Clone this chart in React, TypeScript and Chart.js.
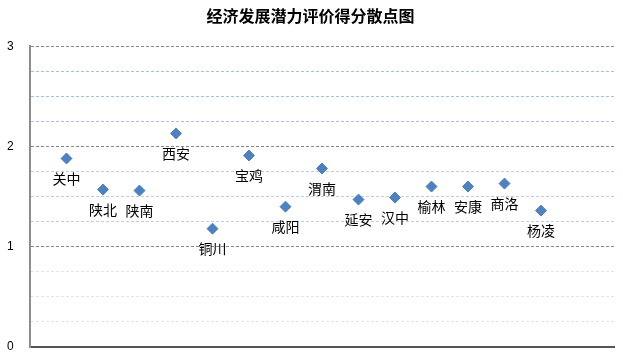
import React, { useEffect, useRef } from "react";
import { Chart, registerables } from "chart.js";

Chart.register(...registerables);

const titleText = "经济发展潜力评价得分散点图";
const regions = ["关中", "陕北", "陕南", "西安", "铜川", "宝鸡", "咸阳", "渭南", "延安", "汉中", "榆林", "安康", "商洛", "杨凌"];
const positions = [1, 2, 3, 4, 5, 6, 7, 8, 9, 10, 11, 12, 13, 14];
const scores = [1.88, 1.57, 1.56, 2.13, 1.18, 1.91, 1.40, 1.78, 1.47, 1.49, 1.60, 1.60, 1.63, 1.36];
const yTickLabels = ["0", "1", "2", "3"];

const labelPlugin = {
  id: "pointLabels",
  afterDatasetsDraw(chart: any) {
    const { ctx } = chart;
    const meta = chart.getDatasetMeta(0);
    ctx.save();
    ctx.font = '14px "Noto Sans CJK SC"';
    ctx.fillStyle = "#000";
    ctx.textAlign = "center";
    ctx.textBaseline = "middle";
    meta.data.forEach((el: any, i: number) => {
      ctx.fillText(regions[i], el.x, el.y + 20);
    });
    ctx.restore();
  },
};

export default function App() {
  const ref = useRef<HTMLCanvasElement>(null);
  useEffect(() => {
    document.body.style.margin = "0";
    const chart = new Chart(ref.current!, {
      type: "scatter",
      data: {
        datasets: [
          {
            data: positions.map((x, i) => ({ x, y: scores[i] })),
            pointStyle: "rectRot",
            pointRadius: 5.5,
            backgroundColor: "#4f81bd",
            borderColor: "#4f81bd",
            borderWidth: 1,
          },
        ],
      },
      options: {
        animation: false,
        responsive: false,
        layout: { padding: { right: 9, left: 7, bottom: 0, top: 0 } },
        plugins: {
          legend: { display: false },
          tooltip: { enabled: false },
          title: {
            display: true,
            text: titleText,
            color: "#000",
            font: { family: '"Noto Sans CJK SC"', size: 16, weight: "bold" },
            padding: { top: 6, bottom: 21 },
          },
        },
        scales: {
          x: {
            type: "linear",
            min: 0,
            max: 16,
            grid: { display: false },
            ticks: { display: false },
            border: { display: true, color: "#555", width: 2 },
            afterFit(scale: any) {
              scale.height = 16;
            },
          },
          y: {
            type: "linear",
            min: 0,
            max: 3,
            ticks: {
              stepSize: 0.25,
              autoSkip: false,
              padding: 0,
              crossAlign: "far",
              color: "#000",
              font: { family: '"Liberation Sans"', size: 12 },
              callback(v: any) {
                const n = Number(v);
                return Number.isInteger(n) ? yTickLabels[n] : "";
              },
            },
            grid: {
              tickLength: 0,
              drawTicks: false,
              lineWidth: 1,
              color(ctx: any) {
                const v = ctx.tick ? ctx.tick.value : 0;
                if (Number.isInteger(v)) return "#888888";
                if (v > 2) return "#a9c0e6";
                if (v > 1) return "#bccde8";
                return "#dfe4f0";
              },
            },
            border: { display: true, color: "#8c8c8c", width: 2, dash: [3, 2] },
            afterFit(scale: any) {
              scale.width = 23;
            },
          },
        },
      },
      plugins: [labelPlugin],
    });
    return () => chart.destroy();
  }, []);
  return (
    <div style={{ position: "absolute", left: 0, top: 0, width: 623, height: 363 }}>
      <canvas ref={ref} width={623} height={363} />
    </div>
  );
}
